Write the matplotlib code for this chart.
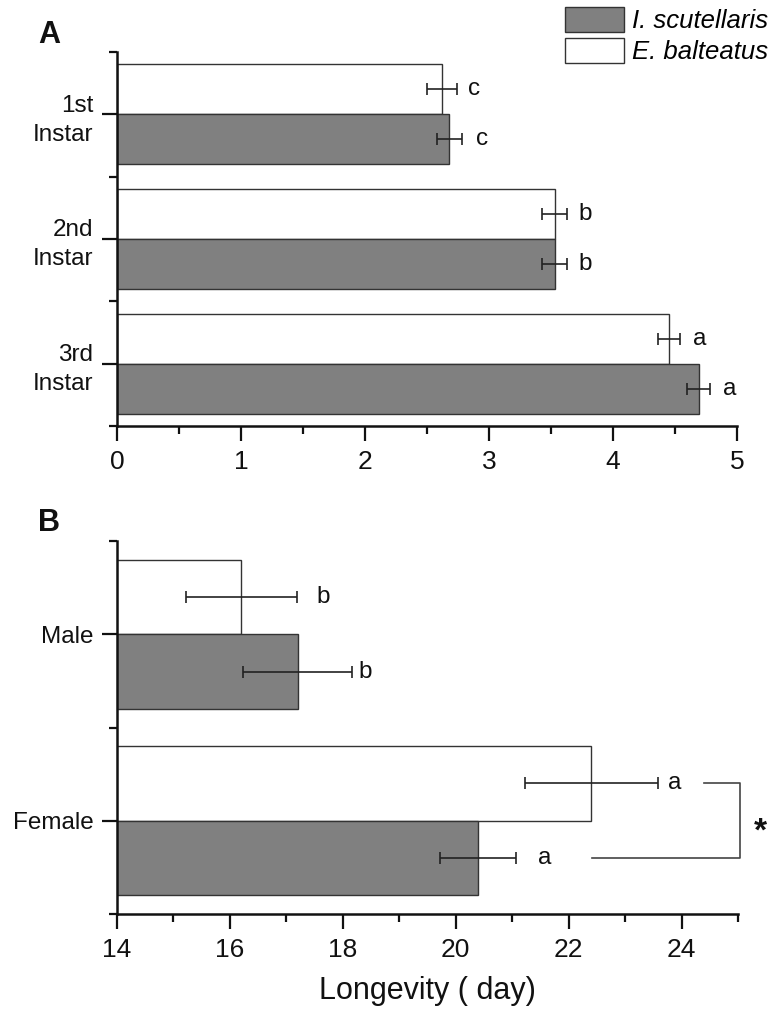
import numpy as np
import matplotlib
matplotlib.use("Agg")
import matplotlib.pyplot as plt
from matplotlib.patches import Patch
from matplotlib.ticker import MultipleLocator

plt.rcParams["font.family"] = ["Liberation Sans", "DejaVu Sans"]

# --- data ------------------------------------------------------------
instars = ["1st\nInstar", "2nd\nInstar", "3rd\nInstar"]
is_instar = [2.68, 3.53, 4.69]          # I. scutellaris
is_instar_err = [0.10, 0.10, 0.09]
eb_instar = [2.62, 3.53, 4.45]          # E. balteatus
eb_instar_err = [0.12, 0.10, 0.09]
is_instar_letters = ["c", "b", "a"]
eb_instar_letters = ["c", "b", "a"]

sexes = ["Male", "Female"]
is_sex = [17.2, 20.4]
is_sex_err = [0.97, 0.67]
eb_sex = [16.2, 22.4]
eb_sex_err = [0.98, 1.18]
is_sex_letters = ["b", "a"]
eb_sex_letters = ["b", "a"]

series_names = ["I. scutellaris", "E. balteatus"]

# --- style -----------------------------------------------------------
GRAY = "#808080"
EDGE = "#333333"
INK = "#111111"
BAR_H = 0.4
# gap (pixels) between end of error bar and its letter
a_off_is = [14, 11, 13]
a_off_eb = [11, 11, 13]
b_off_is = [6, 22]
b_off_eb = [20, 10]


def draw_panel(ax, cats, is_v, is_e, eb_v, eb_e, is_l, eb_l, off_is, off_eb):
    pos = np.arange(1, len(cats) + 1)
    y_eb = pos - BAR_H / 2
    y_is = pos + BAR_H / 2
    ax.barh(y_eb, eb_v, height=BAR_H, color="white", edgecolor=EDGE, lw=1.0)
    ax.barh(y_is, is_v, height=BAR_H, color=GRAY, edgecolor=EDGE, lw=1.0)
    for v, e, y in ((eb_v, eb_e, y_eb), (is_v, is_e, y_is)):
        ax.errorbar(v, y, xerr=e, fmt="none", ecolor="#222222",
                    elinewidth=1.2, capsize=4.3, capthick=1.2)
    for v, e, y, lab, off in ((eb_v, eb_e, y_eb, eb_l, off_eb),
                              (is_v, is_e, y_is, is_l, off_is)):
        for vi, ei, yi, li, oi in zip(v, e, y, lab, off):
            ax.annotate(li, (vi + ei, yi), xytext=(oi, 0),
                        textcoords="offset pixels", ha="left", va="center",
                        fontsize=17.5, color=INK)
    ax.set_ylim(len(cats) + 0.5, 0.5)
    ax.set_yticks(pos)
    ax.set_yticklabels(cats, fontsize=17.5, color=INK, linespacing=1.4)
    ax.set_yticks(np.arange(0.5, len(cats) + 1), minor=True)
    for s in ("top", "right"):
        ax.spines[s].set_visible(False)
    for s in ("left", "bottom"):
        ax.spines[s].set_linewidth(1.8)
        ax.spines[s].set_color(INK)
    ax.tick_params(which="major", length=11, width=1.6, color=INK)
    ax.tick_params(which="minor", length=6, width=1.6, color=INK)
    ax.tick_params(axis="y", which="major", pad=6)
    ax.tick_params(axis="x", which="major", pad=6)
    for t in ax.get_xticklabels():
        t.set_fontsize(19)
        t.set_color(INK)
    return pos


fig = plt.figure(figsize=(7.68, 10.09), dpi=100)
W, H = 768, 1009
axA = fig.add_axes([117 / W, 1 - 426 / H, (737 - 117) / W, (426 - 52) / H])
axB = fig.add_axes([117 / W, 1 - 914 / H, (738 - 117) / W, (914 - 541) / H])

axA.set_xlim(0, 5)
axA.xaxis.set_major_locator(MultipleLocator(1))
axA.xaxis.set_minor_locator(MultipleLocator(0.5))
draw_panel(axA, instars, is_instar, is_instar_err, eb_instar, eb_instar_err,
           is_instar_letters, eb_instar_letters, a_off_is, a_off_eb)

axB.set_xlim(14, 25)
axB.set_xticks(np.arange(14, 25, 2))
axB.set_xticks(np.arange(15, 26, 2), minor=True)
posB = draw_panel(axB, sexes, is_sex, is_sex_err, eb_sex, eb_sex_err,
                  is_sex_letters, eb_sex_letters, b_off_is, b_off_eb)
axB.set_xlabel("Longevity ( day)", fontsize=22, color=INK, labelpad=10)

# significance bracket between the two Female bars
fem = posB[1]
br_x = axB.get_xlim()[1] + 0.04
axB.plot([24.4, br_x, br_x, 22.41],
         [fem - BAR_H / 2, fem - BAR_H / 2, fem + BAR_H / 2, fem + BAR_H / 2],
         color="#444444", lw=1.2, clip_on=False)
axB.text(br_x + 0.36, fem + 0.06, "*", fontsize=24, fontweight="bold",
         ha="center", va="center", color=INK, clip_on=False)

# panel letters
fig.text(38 / W, 1 - 35 / H, "A", fontsize=22, fontweight="bold",
         ha="left", va="center", color=INK)
fig.text(38 / W, 1 - 523 / H, "B", fontsize=22, fontweight="bold",
         ha="left", va="center", color=INK)

handles = [Patch(facecolor=GRAY, edgecolor=EDGE, lw=1.0),
           Patch(facecolor="white", edgecolor=EDGE, lw=1.0)]
fig.legend(handles, series_names, loc="upper right",
           bbox_to_anchor=(1.0, 1 - 7 / H), frameon=False,
           prop={"style": "italic", "size": 18.5},
           handlelength=2.3, handleheight=1.1, handletextpad=0.3,
           labelspacing=0.2, borderpad=0, borderaxespad=0)

fig.savefig("out.png", dpi=100)
